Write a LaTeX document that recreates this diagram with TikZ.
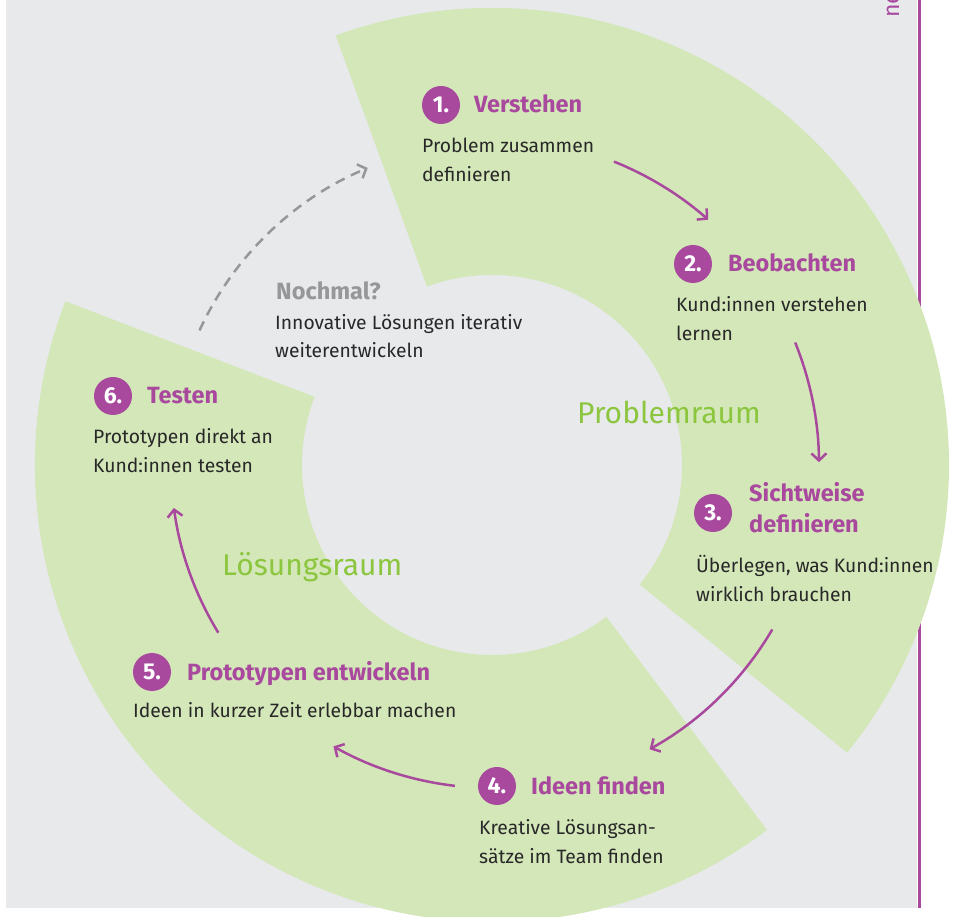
\documentclass[tikz,border=0pt]{standalone}
\usepackage{fontspec}
\setmainfont{Fira Sans}
\usetikzlibrary{arrows.meta,calc}
\definecolor{bg}{RGB}{232,233,235}
\definecolor{ring}{RGB}{212,231,185}
\definecolor{purp}{RGB}{168,73,158}
\definecolor{txt}{RGB}{40,40,40}
\definecolor{grn}{RGB}{140,198,63}
\definecolor{gry}{RGB}{150,151,153}
\begin{document}
\begin{tikzpicture}[x=1pt,y=1pt,
  numc/.style={circle,fill=purp,minimum size=38pt,inner sep=0pt,text=white,font=\bfseries\fontsize{23}{23}\selectfont},
  head/.style={anchor=base west,inner sep=0pt,text=purp,font=\bfseries\fontsize{23.5}{23.5}\selectfont},
  body/.style={anchor=base west,inner sep=0pt,text=txt,font=\fontsize{19.3}{19.3}\selectfont},
  qhead/.style={anchor=base west,inner sep=0pt,text=gry,font=\bfseries\fontsize{23.5}{23.5}\selectfont},
  room/.style={anchor=base west,inner sep=0pt,text=grn,font=\fontsize{30}{30}\selectfont},
  flow/.style={purp,line width=2.5pt,-{Straight Barb[length=7pt,width=15pt]}},
  again/.style={gry,line width=2.5pt,dash pattern=on 10pt off 7pt,-{Straight Barb[length=7pt,width=15pt]}}]
\useasboundingbox (0,0) rectangle (956,917);
\clip (0,0) rectangle (956,917);
\fill[bg] (6,9) rectangle (917,917);
\draw[purp,line width=3pt] (919,9) -- (919,917);
\coordinate (c) at (492,452);
% Problemraum segment
\fill[ring] ($(c)+(110:457)$) arc[start angle=110,end angle=-39,radius=457]
  -- ($(c)+(-39:190)$) arc[start angle=-39,end angle=110,radius=190] -- cycle;
% Loesungsraum segment
\fill[ring] ($(c)+(159:457)$) arc[start angle=159,end angle=307,radius=457]
  -- ($(c)+(307:190)$) arc[start angle=307,end angle=159,radius=190] -- cycle;
% side text
\node[anchor=base west,rotate=90,inner sep=0pt,text=purp,font=\fontsize{23}{23}\selectfont] (side) at (899,899) {ne};
% room labels
\node[room] (pr) at (577,493) {Problemraum};
\node[room] (lr) at (222,341) {Lösungsraum};
% step 1
\node[numc] (n1) at (441,812) {1.};
\node[head] (h1) at (474,804) {Verstehen};
\node[body] (b1a) at (422,764) {Problem zusammen};
\node[body] (b1b) at (422,735) {definieren};
% step 2
\node[numc] (n2) at (693,653) {2.};
\node[head] (h2) at (728,645) {Beobachten};
\node[body] (b2a) at (676,605) {Kund:innen verstehen};
\node[body] (b2b) at (676,576) {lernen};
% step 3
\node[numc] (n3) at (713,404) {3.};
\node[head] (h3a) at (749,415) {Sichtweise};
\node[head] (h3b) at (749,384) {definieren};
\node[body] (b3a) at (696,344) {Überlegen, was Kund:innen};
\node[body] (b3b) at (696,315) {wirklich brauchen};
% step 4
\node[numc] (n4) at (497,131) {4.};
\node[head] (h4) at (531,122) {Ideen finden};
\node[body] (b4a) at (479,82) {Kreative Lösungsan-};
\node[body] (b4b) at (479,53) {sätze im Team finden};
% step 5
\node[numc] (n5) at (152,245) {5.};
\node[head] (h5) at (187,236) {Prototypen entwickeln};
\node[body] (b5a) at (133,199) {Ideen in kurzer Zeit erlebbar machen};
% step 6
\node[numc] (n6) at (113,521) {6.};
\node[head] (h6) at (147,513) {Testen};
\node[body] (b6a) at (93,473) {Prototypen direkt an};
\node[body] (b6b) at (93,444) {Kund:innen testen};
% again
\node[qhead] (q) at (276,617) {Nochmal?};
\node[body] (qa) at (275,587) {Innovative Lösungen iterativ};
\node[body] (qb) at (275,559) {weiterentwickeln};
% arrows
\coordinate (s12) at ($(c)+(68.1:327)$);
\coordinate (s23) at ($(c)+(22:327)$);
\coordinate (s34) at ($(c)+(-30.4:325)$);
\coordinate (s45) at ($(c)+(-96.6:323)$);
\coordinate (s56) at ($(c)+(-148.5:321)$);
\coordinate (s61) at ($(c)+(155.3:322)$);
\draw[flow] (s12) arc[start angle=68.1,end angle=48.6,radius=327];
\draw[flow] (s23) arc[start angle=22,end angle=0.5,radius=327];
\draw[flow] (s34) arc[start angle=-30.4,end angle=-61,radius=325];
\draw[flow] (s45) arc[start angle=-96.6,end angle=-119.4,radius=323];
\draw[flow] (s56) arc[start angle=-148.5,end angle=-172.3,radius=321];
\draw[again] (s61) arc[start angle=155.3,end angle=112.7,radius=322];
\end{tikzpicture}
\end{document}
